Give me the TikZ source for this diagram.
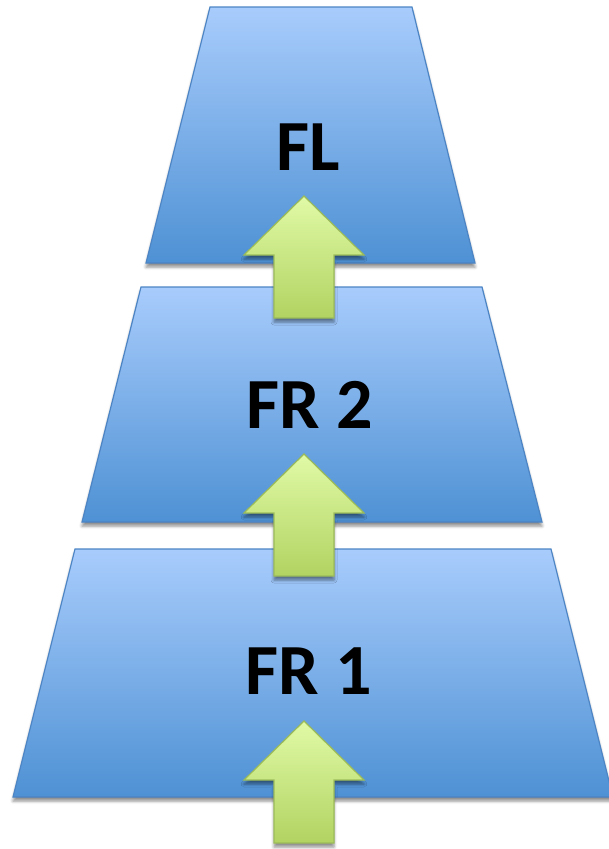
\documentclass[tikz,border=0pt]{standalone}
\usepackage{fontspec}
\setmainfont{Carlito}
\usetikzlibrary{shadows.blur}

\definecolor{layerTop}{RGB}{168,204,252}
\definecolor{layerBottom}{RGB}{78,145,212}
\definecolor{layerEdge}{RGB}{76,132,196}
\definecolor{arrowTop}{RGB}{224,250,166}
\definecolor{arrowBottom}{RGB}{178,211,98}
\definecolor{arrowEdge}{RGB}{156,188,90}

\tikzset{
  layer/.style={draw=layerEdge, line width=1.2pt, line join=miter,
    top color=layerTop, bottom color=layerBottom,
    blur shadow={shadow xshift=0pt, shadow yshift=-4pt,
      shadow blur radius=3pt, shadow opacity=45}},
  blockarrow/.style={draw=arrowEdge, line width=1.2pt, line join=miter,
    top color=arrowTop, bottom color=arrowBottom,
    blur shadow={shadow xshift=0pt, shadow yshift=-4pt,
      shadow blur radius=3pt, shadow opacity=45}},
  label/.style={font=\bfseries\fontsize{72}{72}\selectfont, inner sep=0pt, text=black},
  % upward block arrow, drawn from its tip
  uparrow/.pic={
    \path[blockarrow] (0,0) -- (-60,59) -- (-30,59) -- (-30,122)
      -- (30,122) -- (30,59) -- (60,59) -- cycle;
  }
}

\begin{document}
\begin{tikzpicture}[x=1pt, y=-1pt]
  \useasboundingbox (0,0) rectangle (609,849);
  \clip (0,0) rectangle (609,849);

  % the three stacked layers
  \path[layer] (210,7) -- (412,7) -- (475,263) -- (146,263) -- cycle;
  \path[layer] (141,287) -- (482,287) -- (542,522) -- (82,522) -- cycle;
  \path[layer] (75,549) -- (551,549) -- (613,797) -- (13,797) -- cycle;

  % arrows feeding each layer into the next
  \coordinate (tipA) at (304,196);
  \coordinate (tipB) at (304,454);
  \coordinate (tipC) at (304,721);
  \pic at (tipA) {uparrow};
  \pic at (tipB) {uparrow};
  \pic at (tipC) {uparrow};

  % layer names
  \node[label] (fl)  at (308,147) {FL};
  \node[label] (fr2) at (309.5,405) {FR 2};
  \node[label] (fr1) at (309,671.5) {FR 1};
\end{tikzpicture}
\end{document}
